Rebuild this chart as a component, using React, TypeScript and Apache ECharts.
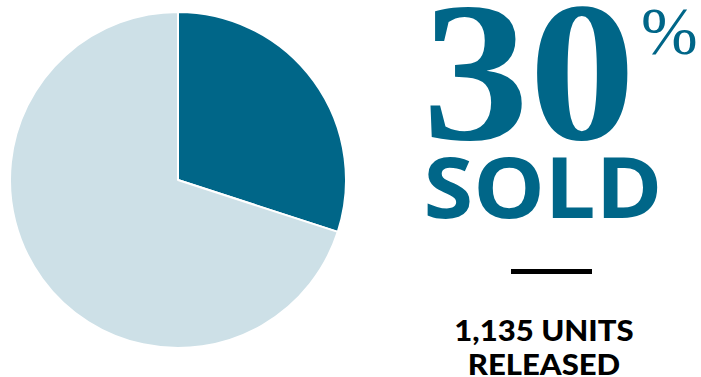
import React, { useEffect, useRef } from "react";
import * as echarts from "echarts";

const sliceNames = ["Sold", "Unsold"];
const sliceValues = [30, 70];
const sliceColors = ["#006688", "#cde0e7"];
const bigNumber = "30";
const percentSign = "%";
const soldLabel = "SOLD";
const unitsLine1 = "1,135 UNITS";
const unitsLine2 = "RELEASED";

export default function App() {
  const ref = useRef<HTMLDivElement>(null);
  useEffect(() => {
    if (!ref.current) return;
    const chart = echarts.init(ref.current, null, { renderer: "svg" });
    chart.setOption({
      animation: false,
      backgroundColor: "#ffffff",
      series: [
        {
          type: "pie",
          center: [178, 180],
          radius: 168,
          startAngle: 90,
          clockwise: true,
          label: { show: false },
          labelLine: { show: false },
          itemStyle: { borderColor: "#ffffff", borderWidth: 2 },
          emphasis: { disabled: true },
          data: sliceNames.map((n, i) => ({
            name: n,
            value: sliceValues[i],
            itemStyle: { color: sliceColors[i] },
          })),
        },
      ],
      graphic: [
        {
          type: "text",
          x: 529,
          y: -28,
          scaleX: 1.07,
          style: {
            text: bigNumber,
            align: "center",
            verticalAlign: "top",
            fontSize: 199,
            fontFamily: "Liberation Serif",
            fontWeight: "bold",
            fill: "#006688",
          },
        },
        {
          type: "text",
          x: 641,
          y: -3,
          style: {
            text: percentSign,
            align: "left",
            verticalAlign: "top",
            fontSize: 68,
            fontFamily: "Liberation Serif",
            fill: "#006688",
          },
        },
        {
          type: "text",
          x: 543,
          y: 143,
          scaleX: 1.06,
          style: {
            text: soldLabel,
            align: "center",
            verticalAlign: "top",
            fontSize: 85,
            fontFamily: "Open Sans",
            fontWeight: "bold",
            fill: "#006688",
          },
        },
        {
          type: "rect",
          shape: { x: 511, y: 269, width: 81, height: 5 },
          style: { fill: "#000000" },
        },
        {
          type: "text",
          x: 544,
          y: 316,
          scaleX: 1.11,
          style: {
            text: unitsLine1,
            align: "center",
            verticalAlign: "top",
            fontSize: 28,
            fontFamily: "Lato",
            fontWeight: 900,
            fill: "#000000",
          },
        },
        {
          type: "text",
          x: 544,
          y: 350,
          scaleX: 1.11,
          style: {
            text: unitsLine2,
            align: "center",
            verticalAlign: "top",
            fontSize: 28,
            fontFamily: "Lato",
            fontWeight: 900,
            fill: "#000000",
          },
        },
      ],
    });
    return () => chart.dispose();
  }, []);
  return (
    <div
      ref={ref}
      style={{ position: "absolute", left: 0, top: 0, width: 701, height: 377 }}
    />
  );
}
